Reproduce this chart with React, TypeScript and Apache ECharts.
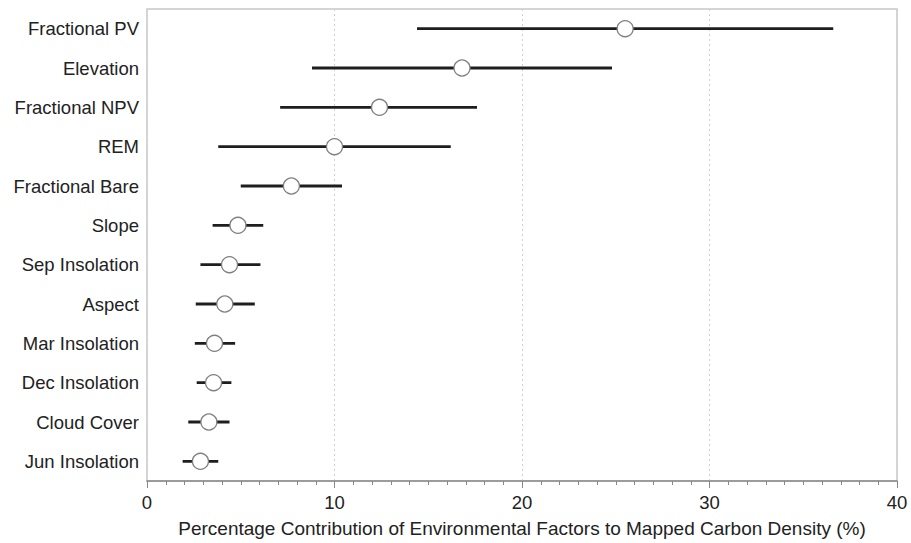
import React, { useEffect, useRef } from "react";
import * as echarts from "echarts";

const categories = [
  "Fractional PV",
  "Elevation",
  "Fractional NPV",
  "REM",
  "Fractional Bare",
  "Slope",
  "Sep Insolation",
  "Aspect",
  "Mar Insolation",
  "Dec Insolation",
  "Cloud Cover",
  "Jun Insolation",
];
const means = [25.5, 16.8, 12.4, 10.0, 7.7, 4.85, 4.4, 4.15, 3.6, 3.55, 3.3, 2.85];
const lows = [14.4, 8.8, 7.1, 3.8, 5.0, 3.5, 2.85, 2.6, 2.55, 2.65, 2.2, 1.9];
const highs = [36.6, 24.8, 17.6, 16.2, 10.4, 6.2, 6.05, 5.75, 4.7, 4.5, 4.4, 3.8];
const xTicks = [0, 10, 20, 30, 40];

const FONT = "'Liberation Sans', Arial, Helvetica, sans-serif";

export default function App() {
  const ref = useRef<HTMLDivElement>(null);
  useEffect(() => {
    if (!ref.current) return;
    const chart = echarts.init(ref.current, undefined, { renderer: "svg" });
    const rangeData = categories.map((c, i) => [i, lows[i], highs[i]]);
    chart.setOption({
      animation: false,
      textStyle: { fontFamily: FONT },
      grid: {
        left: 147,
        right: 14,
        top: 9,
        bottom: 59,
        show: true,
        borderColor: "#c8c8c8",
        borderWidth: 1.5,
        backgroundColor: "#fff",
      },
      xAxis: {
        type: "value",
        min: xTicks[0],
        max: xTicks[xTicks.length - 1],
        interval: 10,
        name: "Percentage Contribution of Environmental Factors to Mapped Carbon Density (%)",
        nameLocation: "middle",
        nameGap: 38,
        nameTextStyle: { fontSize: 19, color: "#222", fontFamily: FONT },
        axisLine: { show: true, lineStyle: { color: "#888", width: 1.5 } },
        axisTick: { show: true, length: 7, lineStyle: { color: "#888" } },
        minorTick: { show: true, splitNumber: 10, length: 4, lineStyle: { color: "#888" } },
        axisLabel: { fontSize: 18.5, color: "#222", margin: 12, fontFamily: FONT },
        splitLine: {
          show: true,
          lineStyle: { color: "#d0d0d0", type: [2, 3], width: 1 },
        },
      },
      yAxis: {
        type: "category",
        data: categories,
        inverse: true,
        axisLine: { show: false },
        axisTick: { show: false },
        splitLine: { show: false },
        axisLabel: { fontSize: 18.5, color: "#222", margin: 8, fontFamily: FONT },
      },
      series: [
        {
          type: "custom",
          data: rangeData,
          encode: { y: 0, x: [1, 2] },
          renderItem: (params: any, api: any) => {
            const idx = api.value(0);
            const lo = api.coord([api.value(1), idx]);
            const hi = api.coord([api.value(2), idx]);
            return {
              type: "line",
              shape: { x1: lo[0], y1: lo[1], x2: hi[0], y2: hi[1] },
              style: { stroke: "#1e1e1e", lineWidth: 2.8 },
            };
          },
          z: 2,
        },
        {
          type: "scatter",
          data: means.map((m, i) => [m, categories[i]]),
          symbol: "circle",
          symbolSize: 16,
          itemStyle: { color: "#ffffff", borderColor: "#808080", borderWidth: 1.3, opacity: 1 },
          z: 3,
        },
      ],
    });
    return () => chart.dispose();
  }, []);
  return (
    <div
      ref={ref}
      style={{ position: "absolute", left: 0, top: 0, width: 911, height: 543 }}
    />
  );
}
